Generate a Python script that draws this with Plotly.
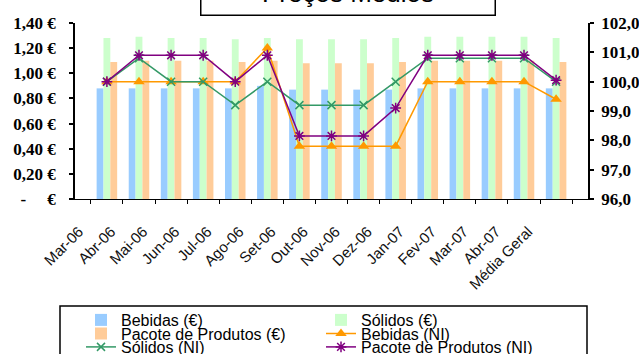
import plotly.graph_objects as go

# Categories (months + overall average)
categories = ["Mar-06", "Abr-06", "Mai-06", "Jun-06", "Jul-06", "Ago-06", "Set-06",
              "Out-06", "Nov-06", "Dez-06", "Jan-07", "Fev-07", "Mar-07", "Abr-07",
              "Média Geral"]

# Average prices in euros (left axis)
bebidas_eur = [0.88, 0.88, 0.88, 0.88, 0.88, 0.90, 0.87, 0.87, 0.87, 0.87,
               0.88, 0.88, 0.88, 0.88, 0.88]
solidos_eur = [1.28, 1.29, 1.28, 1.28, 1.27, 1.28, 1.27, 1.27, 1.27, 1.28,
               1.29, 1.29, 1.29, 1.29, 1.28]
pacote_eur = [1.09, 1.10, 1.10, 1.10, 1.09, 1.10, 1.08, 1.08, 1.08, 1.09,
              1.10, 1.10, 1.10, 1.10, 1.09]

# Price index values (right axis)
bebidas_ni = [100.0, 100.0, 100.0, 100.0, 100.0, 101.15, 97.8, 97.8, 97.8, 97.8,
              100.0, 100.0, 100.0, 100.0, 99.4]
solidos_ni = [100.0, 100.8, 100.0, 100.0, 99.2, 100.0, 99.2, 99.2, 99.2, 100.0,
              100.8, 100.8, 100.8, 100.8, 100.0]
pacote_ni = [100.0, 100.9, 100.9, 100.9, 100.0, 100.9, 98.15, 98.15, 98.15, 99.1,
             100.9, 100.9, 100.9, 100.9, 100.05]

# Axis tick labels
left_vals = [0, 0.2, 0.4, 0.6, 0.8, 1.0, 1.2, 1.4]
left_text = ["-\u00a0\u00a0\u00a0\u00a0\u00a0€", "0,20 €", "0,40 €", "0,60 €",
             "0,80 €", "1,00 €", "1,20 €", "1,40 €"]
right_vals = [96, 97, 98, 99, 100, 101, 102]
right_text = ["96,0", "97,0", "98,0", "99,0", "100,0", "101,0", "102,0"]

W, H = 639, 354
L, R, T, B = 75, 51, 23, 155
PW, PH = W - L - R, H - T - B


def px_x(x):
    return (x - L) / PW


def px_y(y):
    return (H - B - y) / PH


SANS = "Liberation Sans, Arial, sans-serif"
SERIF = "Liberation Serif, Times New Roman, serif"

fig = go.Figure()

fig.add_bar(x=categories, y=bebidas_eur, name="Bebidas (€)",
            marker=dict(color="#99CCFF", line=dict(width=0)), legend="legend")
fig.add_bar(x=categories, y=solidos_eur, name="Sólidos (€)",
            marker=dict(color="#CCFFCC", line=dict(width=0)), legend="legend")
fig.add_bar(x=categories, y=pacote_eur, name="Pacote de Produtos (€)",
            marker=dict(color="#FFCC99", line=dict(width=0)), legend="legend2")

fig.add_scatter(x=categories, y=bebidas_ni, name="Bebidas (NI)", yaxis="y2",
                mode="lines+markers", legend="legend2",
                line=dict(color="#FF9900", width=1.5),
                marker=dict(symbol="triangle-up", size=10, color="#FF9900"))
fig.add_scatter(x=categories, y=solidos_ni, name="Sólidos (NI)", yaxis="y2",
                mode="lines+markers", legend="legend3",
                line=dict(color="#339966", width=1.5),
                marker=dict(symbol="x-thin-open", size=8, color="#339966",
                            line=dict(color="#339966", width=1.5)))
fig.add_scatter(x=categories, y=pacote_ni, name="Pacote de Produtos (NI)", yaxis="y2",
                mode="lines+markers", legend="legend3",
                line=dict(color="#800080", width=1.5),
                marker=dict(symbol="asterisk-open", size=9, color="#800080",
                            line=dict(color="#800080", width=1.5)))

legend_common = dict(orientation="h", xanchor="left", yanchor="middle",
                     bgcolor="rgba(0,0,0,0)", borderwidth=0,
                     font=dict(family=SANS, size=16, color="#000"),
                     entrywidth=195, entrywidthmode="pixels",
                     traceorder="normal", itemclick=False)

# inner halves of the crossing tick marks (tick-only overlay axes)
inner_ticks = dict(showline=False, showgrid=False, zeroline=False,
                   showticklabels=False, ticks="inside", ticklen=4,
                   tickcolor="#000", automargin=False)

fig.update_layout(
    width=W, height=H,
    margin=dict(l=L, r=R, t=T, b=B, autoexpand=False),
    paper_bgcolor="white", plot_bgcolor="white",
    barmode="group", bargap=0.36, bargroupgap=0,
    showlegend=True,
    legend=dict(x=px_x(81), y=px_y(320), **legend_common),
    legend2=dict(x=px_x(81), y=px_y(333.5), **legend_common),
    legend3=dict(x=px_x(81), y=px_y(347), **legend_common),
    xaxis=dict(type="category", showline=True, linecolor="#000", linewidth=1,
               ticks="outside", ticklen=4, tickcolor="#000", tickson="boundaries",
               tickangle=-45, showgrid=False, zeroline=False, automargin=False,
               ticklabelstandoff=17, ticklabelshift=-28,
               tickfont=dict(family=SANS, size=15, color="#111")),
    yaxis=dict(range=[0, 1.4], tickvals=left_vals, ticktext=left_text,
               showline=True, linecolor="#000", linewidth=1.5,
               ticks="outside", ticklen=4, tickcolor="#000", tickwidth=1.5,
               showgrid=False, zeroline=False, ticklabelstandoff=10, automargin=False,
               tickfont=dict(family=SERIF, size=17, color="#000", weight="bold")),
    yaxis2=dict(range=[96, 102], tickvals=right_vals, ticktext=right_text,
                overlaying="y", side="right", showline=True, linecolor="#000",
                linewidth=1.5, ticks="outside", ticklen=4, tickcolor="#000",
                tickwidth=1.5, showgrid=False, zeroline=False, automargin=False,
                ticklabelstandoff=4,
                tickfont=dict(family=SERIF, size=17, color="#000", weight="bold")),
    yaxis3=dict(range=[0, 1.4], tickvals=left_vals, overlaying="y", side="left",
                anchor="x", tickwidth=1.5, **inner_ticks),
    yaxis4=dict(range=[96, 102], tickvals=right_vals, overlaying="y", side="right",
                anchor="x", tickwidth=1.5, **inner_ticks),
    xaxis2=dict(range=[-0.5, len(categories) - 0.5],
                tickvals=[i - 0.5 for i in range(len(categories) + 1)],
                overlaying="x", side="bottom", anchor="y", tickwidth=1, **inner_ticks),
    annotations=[dict(
        text="Preços Médios", xref="paper", yref="paper",
        x=px_x(347.5), y=px_y(15.7), xanchor="center", yanchor="bottom",
        showarrow=False, width=293, height=44, borderpad=0,
        bordercolor="#000", borderwidth=1.5, bgcolor="white",
        font=dict(family=SANS, size=26, color="#000"))],
    shapes=[dict(type="rect", xref="paper", yref="paper",
                 x0=px_x(60), x1=px_x(587), y0=px_y(306), y1=px_y(400),
                 line=dict(color="#000", width=1.5), fillcolor="rgba(0,0,0,0)",
                 layer="below")],
)

fig.write_html("out.html")
